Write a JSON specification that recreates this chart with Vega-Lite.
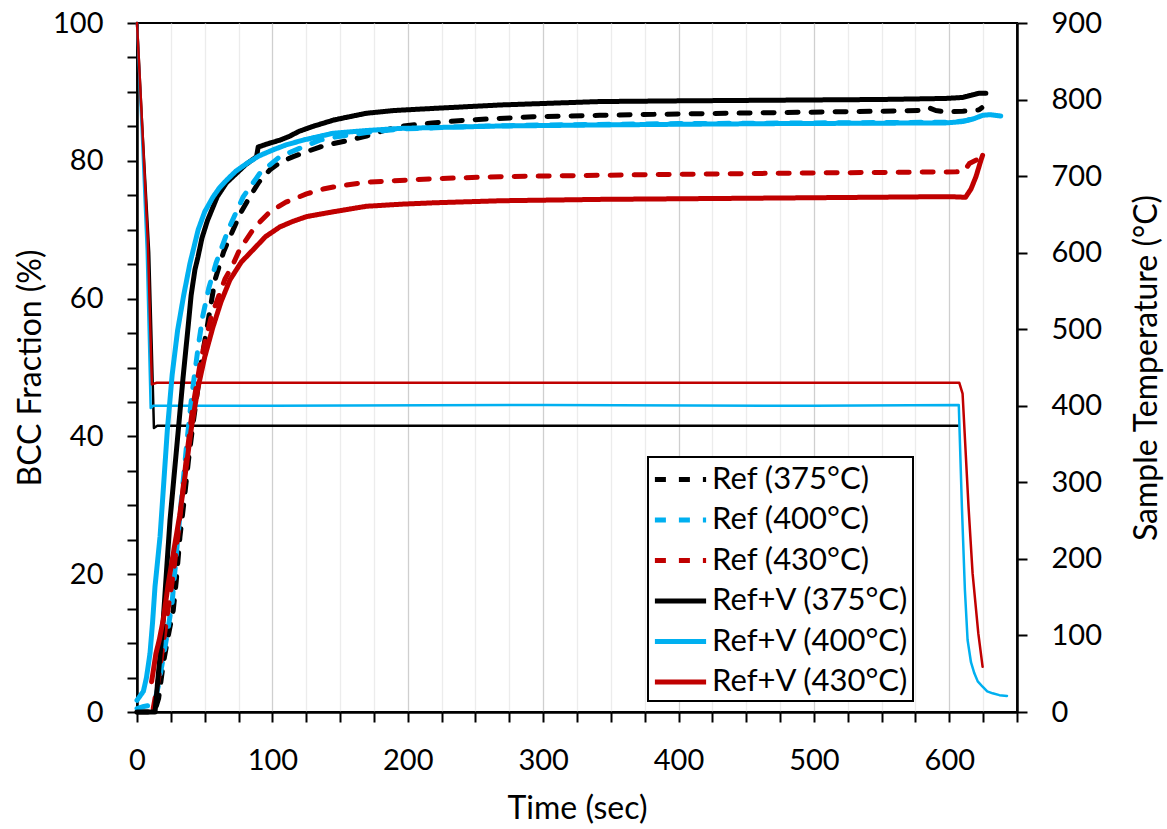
{
  "$schema": "https://vega.github.io/schema/vega-lite/v6.json",
  "width": 880,
  "height": 689,
  "autosize": "none",
  "padding": {"left": 137, "top": 23, "right": 150, "bottom": 117},
  "background": "white",
  "datasets": {
    "bcc": [
      {"series":"Ref (375°C)","t":0,"v":0},{"series":"Ref (375°C)","t":13,"v":0},{"series":"Ref (375°C)","t":16,"v":2},{"series":"Ref (375°C)","t":19.4,"v":7},{"series":"Ref (375°C)","t":23,"v":11},{"series":"Ref (375°C)","t":26.8,"v":14.8},{"series":"Ref (375°C)","t":29,"v":19},{"series":"Ref (375°C)","t":31.7,"v":25.4},{"series":"Ref (375°C)","t":35,"v":31},{"series":"Ref (375°C)","t":38,"v":36.5},{"series":"Ref (375°C)","t":41.5,"v":42},{"series":"Ref (375°C)","t":45,"v":47},{"series":"Ref (375°C)","t":48,"v":51.5},{"series":"Ref (375°C)","t":51.4,"v":55.4},{"series":"Ref (375°C)","t":57.6,"v":62.7},{"series":"Ref (375°C)","t":64,"v":66.8},{"series":"Ref (375°C)","t":71,"v":70},{"series":"Ref (375°C)","t":77,"v":72.6},{"series":"Ref (375°C)","t":83.4,"v":74.8},{"series":"Ref (375°C)","t":90,"v":76.9},{"series":"Ref (375°C)","t":98.2,"v":78.7},{"series":"Ref (375°C)","t":106,"v":79.8},{"series":"Ref (375°C)","t":115.4,"v":80.6},{"series":"Ref (375°C)","t":125,"v":81.3},{"series":"Ref (375°C)","t":135,"v":82},{"series":"Ref (375°C)","t":145,"v":82.5},{"series":"Ref (375°C)","t":157,"v":83},{"series":"Ref (375°C)","t":169.5,"v":83.6},{"series":"Ref (375°C)","t":181,"v":84.3},{"series":"Ref (375°C)","t":194,"v":85},{"series":"Ref (375°C)","t":218,"v":85.5},{"series":"Ref (375°C)","t":243,"v":85.9},{"series":"Ref (375°C)","t":292.5,"v":86.4},{"series":"Ref (375°C)","t":341.7,"v":86.6},{"series":"Ref (375°C)","t":400,"v":86.8},{"series":"Ref (375°C)","t":474.5,"v":87},{"series":"Ref (375°C)","t":550,"v":87.2},{"series":"Ref (375°C)","t":580,"v":87.3},{"series":"Ref (375°C)","t":585,"v":87.7},{"series":"Ref (375°C)","t":590,"v":87.3},{"series":"Ref (375°C)","t":597.5,"v":87.1},{"series":"Ref (375°C)","t":610,"v":87.2},{"series":"Ref (375°C)","t":622,"v":87.4},{"series":"Ref (375°C)","t":624,"v":87.7},

      {"series":"Ref (400°C)","t":0,"v":0.5},{"series":"Ref (400°C)","t":5,"v":0.8},{"series":"Ref (400°C)","t":10,"v":1},{"series":"Ref (400°C)","t":13,"v":1.5},{"series":"Ref (400°C)","t":16,"v":4},{"series":"Ref (400°C)","t":19,"v":7.5},{"series":"Ref (400°C)","t":22.5,"v":11.5},{"series":"Ref (400°C)","t":26,"v":16},{"series":"Ref (400°C)","t":30,"v":25},{"series":"Ref (400°C)","t":34.2,"v":33.7},{"series":"Ref (400°C)","t":37,"v":39.5},{"series":"Ref (400°C)","t":40.4,"v":45.8},{"series":"Ref (400°C)","t":45.2,"v":53},{"series":"Ref (400°C)","t":48.5,"v":57.4},{"series":"Ref (400°C)","t":53,"v":61.5},{"series":"Ref (400°C)","t":58.3,"v":65.1},{"series":"Ref (400°C)","t":67.4,"v":70},{"series":"Ref (400°C)","t":78.5,"v":74.8},{"series":"Ref (400°C)","t":90.8,"v":78.2},{"series":"Ref (400°C)","t":105.5,"v":80.6},{"series":"Ref (400°C)","t":120,"v":81.8},{"series":"Ref (400°C)","t":135,"v":83},{"series":"Ref (400°C)","t":145,"v":83.4},{"series":"Ref (400°C)","t":169.5,"v":84.1},{"series":"Ref (400°C)","t":194,"v":84.6},{"series":"Ref (400°C)","t":250,"v":85},{"series":"Ref (400°C)","t":300,"v":85.2},{"series":"Ref (400°C)","t":400,"v":85.4},{"series":"Ref (400°C)","t":500,"v":85.5},{"series":"Ref (400°C)","t":600,"v":85.6},{"series":"Ref (400°C)","t":612,"v":85.8},{"series":"Ref (400°C)","t":618,"v":86.2},{"series":"Ref (400°C)","t":622,"v":86.4},

      {"series":"Ref (430°C)","t":12,"v":0.5},{"series":"Ref (430°C)","t":16,"v":5},{"series":"Ref (430°C)","t":19.4,"v":10},{"series":"Ref (430°C)","t":23,"v":15},{"series":"Ref (430°C)","t":26.8,"v":20},{"series":"Ref (430°C)","t":31,"v":27},{"series":"Ref (430°C)","t":36,"v":36},{"series":"Ref (430°C)","t":41,"v":44},{"series":"Ref (430°C)","t":47,"v":51},{"series":"Ref (430°C)","t":55,"v":57.5},{"series":"Ref (430°C)","t":64.9,"v":62.8},{"series":"Ref (430°C)","t":71,"v":65},{"series":"Ref (430°C)","t":76,"v":67.2},{"series":"Ref (430°C)","t":87.1,"v":70.4},{"series":"Ref (430°C)","t":98.2,"v":72.6},{"series":"Ref (430°C)","t":110,"v":74},{"series":"Ref (430°C)","t":125.2,"v":75.2},{"series":"Ref (430°C)","t":137.5,"v":75.9},{"series":"Ref (430°C)","t":145,"v":76.2},{"series":"Ref (430°C)","t":169.5,"v":76.9},{"series":"Ref (430°C)","t":218.7,"v":77.4},{"series":"Ref (430°C)","t":268,"v":77.7},{"series":"Ref (430°C)","t":341.7,"v":77.9},{"series":"Ref (430°C)","t":474.5,"v":78.2},{"series":"Ref (430°C)","t":605,"v":78.4},{"series":"Ref (430°C)","t":611,"v":78.5},{"series":"Ref (430°C)","t":614.8,"v":79.6},{"series":"Ref (430°C)","t":620.9,"v":80.2},{"series":"Ref (430°C)","t":624.6,"v":80.8},

      {"series":"Ref+V (375°C)","t":0,"v":0},{"series":"Ref+V (375°C)","t":13.3,"v":0},{"series":"Ref+V (375°C)","t":16,"v":6},{"series":"Ref+V (375°C)","t":19.4,"v":13.4},{"series":"Ref+V (375°C)","t":22,"v":21},{"series":"Ref+V (375°C)","t":24.4,"v":27.9},{"series":"Ref+V (375°C)","t":27.5,"v":34.5},{"series":"Ref+V (375°C)","t":30.5,"v":40.9},{"series":"Ref+V (375°C)","t":34,"v":48.5},{"series":"Ref+V (375°C)","t":37.5,"v":55.4},{"series":"Ref+V (375°C)","t":40,"v":60.5},{"series":"Ref+V (375°C)","t":42.8,"v":64.2},{"series":"Ref+V (375°C)","t":45,"v":66},{"series":"Ref+V (375°C)","t":48,"v":68.8},{"series":"Ref+V (375°C)","t":52,"v":71.3},{"series":"Ref+V (375°C)","t":59.3,"v":74.8},{"series":"Ref+V (375°C)","t":66,"v":76.8},{"series":"Ref+V (375°C)","t":73.6,"v":78.2},{"series":"Ref+V (375°C)","t":80,"v":79.4},{"series":"Ref+V (375°C)","t":88.3,"v":80.6},{"series":"Ref+V (375°C)","t":89.5,"v":82},{"series":"Ref+V (375°C)","t":97,"v":82.5},{"series":"Ref+V (375°C)","t":105.5,"v":83},{"series":"Ref+V (375°C)","t":112,"v":83.5},{"series":"Ref+V (375°C)","t":120,"v":84.3},{"series":"Ref+V (375°C)","t":130,"v":85},{"series":"Ref+V (375°C)","t":145,"v":85.9},{"series":"Ref+V (375°C)","t":157,"v":86.4},{"series":"Ref+V (375°C)","t":169.5,"v":86.9},{"series":"Ref+V (375°C)","t":190,"v":87.3},{"series":"Ref+V (375°C)","t":218.7,"v":87.6},{"series":"Ref+V (375°C)","t":268,"v":88.1},{"series":"Ref+V (375°C)","t":341.7,"v":88.6},{"series":"Ref+V (375°C)","t":400,"v":88.7},{"series":"Ref+V (375°C)","t":474.5,"v":88.8},{"series":"Ref+V (375°C)","t":550,"v":88.9},{"series":"Ref+V (375°C)","t":597.5,"v":89.05},{"series":"Ref+V (375°C)","t":610,"v":89.2},{"series":"Ref+V (375°C)","t":618,"v":89.6},{"series":"Ref+V (375°C)","t":622,"v":89.8},{"series":"Ref+V (375°C)","t":627,"v":89.8},

      {"series":"Ref+V (400°C)","t":0,"v":1.7},{"series":"Ref+V (400°C)","t":4.7,"v":3},{"series":"Ref+V (400°C)","t":7,"v":5},{"series":"Ref+V (400°C)","t":9.6,"v":8.5},{"series":"Ref+V (400°C)","t":11.5,"v":13},{"series":"Ref+V (400°C)","t":13.3,"v":18.2},{"series":"Ref+V (400°C)","t":15,"v":21.5},{"series":"Ref+V (400°C)","t":17,"v":25.4},{"series":"Ref+V (400°C)","t":19.5,"v":32.5},{"series":"Ref+V (400°C)","t":22.4,"v":40.9},{"series":"Ref+V (400°C)","t":26,"v":49},{"series":"Ref+V (400°C)","t":30,"v":55.4},{"series":"Ref+V (400°C)","t":34.5,"v":60.5},{"series":"Ref+V (400°C)","t":39.1,"v":65.1},{"series":"Ref+V (400°C)","t":45.2,"v":70},{"series":"Ref+V (400°C)","t":50,"v":72.6},{"series":"Ref+V (400°C)","t":56.3,"v":74.8},{"series":"Ref+V (400°C)","t":61,"v":76.1},{"series":"Ref+V (400°C)","t":66.2,"v":77.2},{"series":"Ref+V (400°C)","t":73,"v":78.5},{"series":"Ref+V (400°C)","t":81,"v":79.6},{"series":"Ref+V (400°C)","t":90,"v":80.7},{"series":"Ref+V (400°C)","t":100.6,"v":81.6},{"series":"Ref+V (400°C)","t":110,"v":82.3},{"series":"Ref+V (400°C)","t":122.7,"v":83},{"series":"Ref+V (400°C)","t":145,"v":84},{"series":"Ref+V (400°C)","t":170,"v":84.4},{"series":"Ref+V (400°C)","t":194,"v":84.7},{"series":"Ref+V (400°C)","t":268,"v":85.05},{"series":"Ref+V (400°C)","t":342,"v":85.2},{"series":"Ref+V (400°C)","t":400,"v":85.3},{"series":"Ref+V (400°C)","t":474.5,"v":85.4},{"series":"Ref+V (400°C)","t":540,"v":85.45},{"series":"Ref+V (400°C)","t":597.5,"v":85.5},{"series":"Ref+V (400°C)","t":610,"v":85.7},{"series":"Ref+V (400°C)","t":618,"v":86.1},{"series":"Ref+V (400°C)","t":624.6,"v":86.6},{"series":"Ref+V (400°C)","t":630,"v":86.7},{"series":"Ref+V (400°C)","t":638,"v":86.5},

      {"series":"Ref+V (430°C)","t":10.8,"v":4.4},{"series":"Ref+V (430°C)","t":14,"v":8.5},{"series":"Ref+V (430°C)","t":16.5,"v":10.5},{"series":"Ref+V (430°C)","t":19.4,"v":13.4},{"series":"Ref+V (430°C)","t":23,"v":18.5},{"series":"Ref+V (430°C)","t":26.8,"v":23},{"series":"Ref+V (430°C)","t":31.5,"v":28.5},{"series":"Ref+V (430°C)","t":36,"v":35},{"series":"Ref+V (430°C)","t":40,"v":41},{"series":"Ref+V (430°C)","t":45,"v":47},{"series":"Ref+V (430°C)","t":50,"v":51.5},{"series":"Ref+V (430°C)","t":56,"v":55.8},{"series":"Ref+V (430°C)","t":62,"v":59.5},{"series":"Ref+V (430°C)","t":68.6,"v":62.7},{"series":"Ref+V (430°C)","t":77,"v":65.3},{"series":"Ref+V (430°C)","t":85.8,"v":67.1},{"series":"Ref+V (430°C)","t":95,"v":69},{"series":"Ref+V (430°C)","t":105.5,"v":70.4},{"series":"Ref+V (430°C)","t":115,"v":71.2},{"series":"Ref+V (430°C)","t":125.2,"v":71.9},{"series":"Ref+V (430°C)","t":145,"v":72.6},{"series":"Ref+V (430°C)","t":169.5,"v":73.4},{"series":"Ref+V (430°C)","t":195,"v":73.7},{"series":"Ref+V (430°C)","t":218.7,"v":73.9},{"series":"Ref+V (430°C)","t":268,"v":74.2},{"series":"Ref+V (430°C)","t":341.7,"v":74.4},{"series":"Ref+V (430°C)","t":474.5,"v":74.6},{"series":"Ref+V (430°C)","t":600,"v":74.8},{"series":"Ref+V (430°C)","t":612,"v":74.7},{"series":"Ref+V (430°C)","t":616,"v":75.9},{"series":"Ref+V (430°C)","t":619.7,"v":77.7},{"series":"Ref+V (430°C)","t":623.4,"v":80.1},{"series":"Ref+V (430°C)","t":624.6,"v":80.8}
    ],
    "temp": [
      {"ts":"375","t":0,"temp":900},{"ts":"375","t":4,"temp":760},{"ts":"375","t":9,"temp":600},{"ts":"375","t":12.5,"temp":371},{"ts":"375","t":15,"temp":374},{"ts":"375","t":60,"temp":374},{"ts":"375","t":150,"temp":374},{"ts":"375","t":250,"temp":374},{"ts":"375","t":350,"temp":374},{"ts":"375","t":450,"temp":374},{"ts":"375","t":550,"temp":374},{"ts":"375","t":607,"temp":374},
      {"ts":"400","t":0,"temp":900},{"ts":"400","t":3.5,"temp":760},{"ts":"400","t":7.2,"temp":603},{"ts":"400","t":10.1,"temp":397},{"ts":"400","t":12,"temp":400},{"ts":"400","t":100,"temp":400},{"ts":"400","t":300,"temp":401},{"ts":"400","t":500,"temp":400},{"ts":"400","t":607,"temp":401},{"ts":"400","t":609.3,"temp":268},{"ts":"400","t":611.5,"temp":160},{"ts":"400","t":613.5,"temp":94},{"ts":"400","t":616,"temp":65},{"ts":"400","t":618.5,"temp":50.6},{"ts":"400","t":621,"temp":40},{"ts":"400","t":624.6,"temp":33},{"ts":"400","t":628,"temp":27},{"ts":"400","t":632,"temp":24.4},{"ts":"400","t":637,"temp":22},{"ts":"400","t":642.6,"temp":21},
      {"ts":"430","t":0,"temp":900},{"ts":"430","t":4,"temp":760},{"ts":"430","t":8,"temp":615},{"ts":"430","t":11,"temp":428},{"ts":"430","t":14.5,"temp":430},{"ts":"430","t":100,"temp":430},{"ts":"430","t":300,"temp":430},{"ts":"430","t":500,"temp":430},{"ts":"430","t":607.4,"temp":430},{"ts":"430","t":609.8,"temp":416},{"ts":"430","t":614.2,"temp":268},{"ts":"430","t":617.2,"temp":181},{"ts":"430","t":621.4,"temp":103},{"ts":"430","t":624.6,"temp":59}
    ]
  },
  "encoding": {
    "x": {
      "field": "t", "type": "quantitative",
      "scale": {"domain": [0, 650], "nice": false},
      "axis": {
        "title": "Time (sec)",
        "values": [0,25,50,75,100,125,150,175,200,225,250,275,300,325,350,375,400,425,450,475,500,525,550,575,600,625,650],
        "labelExpr": "datum.value % 100 === 0 ? datum.label : ''",
        "labelOverlap": false, "labelFlush": false,
        "gridColor": {"condition": {"test": "datum.value % 100 === 0", "value": "#cfcfcf"}, "value": "#ececec"},
        "labelPadding": 24, "titlePadding": 18
      }
    }
  },
  "layer": [
    {
      "data": {"name": "temp"},
      "mark": {"type": "line", "strokeWidth": 2.5, "strokeCap": "round", "strokeJoin": "round"},
      "encoding": {
        "y": {
          "field": "temp", "type": "quantitative",
          "scale": {"domain": [0, 900], "nice": false},
          "axis": {
            "orient": "right", "title": "Sample Temperature (°C)",
            "values": [0,100,200,300,400,500,600,700,800,900],
            "grid": false, "labelPadding": 24, "titlePadding": 30,
            "titleAngle": -90, "titleBaseline": "top", "labelFlush": false, "labelOverlap": false
          }
        },
        "stroke": {
          "field": "ts", "type": "nominal",
          "scale": {"domain": ["375","400","430"], "range": ["#000000","#00B0F0","#C00000"]},
          "legend": null
        }
      }
    },
    {
      "data": {"name": "bcc"},
      "mark": {"type": "line", "strokeWidth": 5, "strokeCap": "round", "strokeJoin": "round"},
      "encoding": {
        "y": {
          "field": "v", "type": "quantitative",
          "scale": {"domain": [0, 100], "nice": false},
          "axis": {
            "orient": "left", "title": "BCC Fraction (%)",
            "values": [0,5,10,15,20,25,30,35,40,45,50,55,60,65,70,75,80,85,90,95,100],
            "labelExpr": "datum.value % 20 === 0 ? datum.label : ''",
            "labelOverlap": false, "labelFlush": false,
            "gridColor": {"condition": {"test": "datum.value % 20 === 0", "value": "#cfcfcf"}, "value": "#ececec"},
            "labelPadding": 24, "titlePadding": 5
          }
        },
        "color": {
          "field": "series", "type": "nominal",
          "scale": {
            "domain": ["Ref (375°C)","Ref (400°C)","Ref (430°C)","Ref+V (375°C)","Ref+V (400°C)","Ref+V (430°C)"],
            "range": ["#000000","#00B0F0","#C00000","#000000","#00B0F0","#C00000"]
          },
          "legend": {
            "title": null, "orient": "none", "legendX": 511, "legendY": 434,
            "symbolType": "M-1.6,0H1.6", "symbolSize": 1024, "symbolStrokeWidth": 5,
            "symbolOffset": 10, "labelOffset": 13, "labelLimit": 400,
            "rowPadding": 6.5, "padding": 4,
            "strokeColor": "black", "fillColor": "white"
          }
        },
        "strokeDash": {
          "field": "series", "type": "nominal",
          "scale": {
            "domain": ["Ref (375°C)","Ref (400°C)","Ref (430°C)","Ref+V (375°C)","Ref+V (400°C)","Ref+V (430°C)"],
            "range": [[11,13],[11,13],[11,13],[1,0],[1,0],[1,0]]
          },
          "legend": {
            "title": null, "orient": "none", "legendX": 511, "legendY": 434,
            "symbolType": "M-1.6,0H1.6", "symbolSize": 1024, "symbolStrokeWidth": 5,
            "symbolOffset": 10, "labelOffset": 13, "labelLimit": 400,
            "rowPadding": 6.5, "padding": 4,
            "strokeColor": "black", "fillColor": "white"
          }
        }
      }
    }
  ],
  "resolve": {"scale": {"y": "independent"}},
  "config": {
    "font": "Lato",
    "view": {"stroke": "black", "strokeWidth": 2},
    "axis": {
      "labelFont": "Lato", "labelFontSize": 29, "labelColor": "black",
      "titleFont": "Lato", "titleFontSize": 32, "titleFontWeight": "normal", "titleColor": "black",
      "domainColor": "black", "domainWidth": 2.5, "tickColor": "black", "tickWidth": 2, "tickSize": 10,
      "gridWidth": 1.3
    },
    "legend": {
      "labelFont": "Lato", "labelFontSize": 31, "labelColor": "black", "strokeWidth": 2
    }
  }
}
